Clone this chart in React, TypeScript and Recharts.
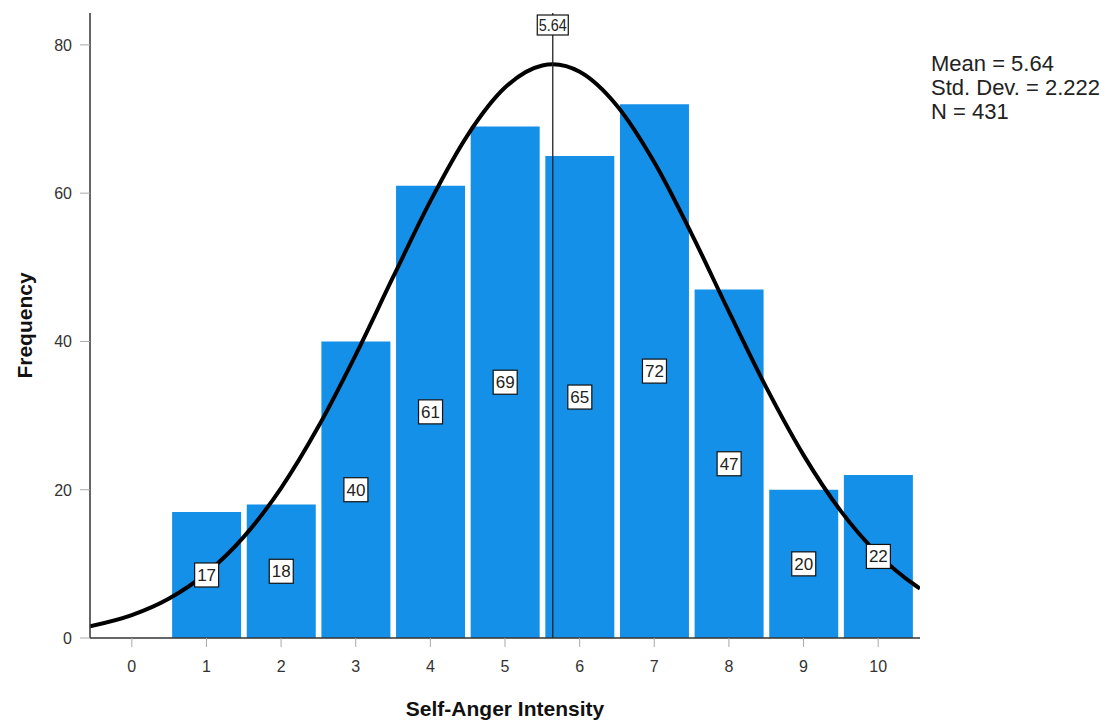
import {
  ComposedChart,
  Bar,
  Line,
  XAxis,
  YAxis,
  ReferenceLine,
  LabelList,
  Label,
} from "recharts";

const FONT = "'Liberation Sans', Arial, sans-serif";

// histogram bins (Self-Anger Intensity) and counts
const bins = [1, 2, 3, 4, 5, 6, 7, 8, 9, 10];
const frequencies = [17, 18, 40, 61, 69, 65, 72, 47, 20, 22];

// normal curve (frequency scale)
const curveX = [-0.56, 0, 0.5, 1, 1.5, 2, 2.5, 3, 3.5, 4, 4.5, 5, 5.5, 5.64, 6, 6.5, 7, 7.5, 8, 8.5, 9, 9.5, 10, 10.5, 10.56];
const curveY = [1.58, 3.09, 5.33, 8.75, 13.64, 20.23, 28.52, 38.2, 48.66, 58.93, 67.84, 74.24, 77.22, 77.38, 76.37, 71.79, 64.16, 54.51, 44.02, 33.8, 24.67, 17.11, 11.29, 7.08, 6.67];

const xTicks = [0, 1, 2, 3, 4, 5, 6, 7, 8, 9, 10];
const yTicks = [0, 20, 40, 60, 80];
const X_DOMAIN: [number, number] = [-0.56, 10.56];

const MEAN = 5.64;
const statsLines = ["Mean = 5.64", "Std. Dev. = 2.222", "N = 431"];

const barData = bins.map((x, i) => ({ x, freq: frequencies[i] }));
const curveData = curveX.map((x, i) => ({ x, curve: curveY[i] }));

function BoxLabel(props: any) {
  const { x, y, width, height, value } = props;
  if (value == null) return null;
  const cx = x + width / 2;
  const cy = y + height / 2;
  const w = String(value).length * 9.5 + 5;
  return (
    <g>
      <rect x={cx - w / 2} y={cy - 12} width={w} height={24} fill="#fff" stroke="#111" strokeWidth={1.2} />
      <text x={cx} y={cy + 6} textAnchor="middle" fontSize={17} fontFamily={FONT} fill="#222">
        {value}
      </text>
    </g>
  );
}

function MeanLabel(props: any) {
  const { viewBox } = props;
  const cx = viewBox.x;
  const top = viewBox.y;
  return (
    <g>
      <rect x={cx - 15.5} y={top + 2} width={31} height={20} fill="#fff" stroke="#111" strokeWidth={1.2} />
      <text x={cx} y={top + 18} textAnchor="middle" fontSize={16} fontFamily={FONT} fill="#222" textLength={28} lengthAdjust="spacingAndGlyphs">
        {MEAN.toFixed(2)}
      </text>
    </g>
  );
}

function XTick(props: any) {
  const { x, y, payload } = props;
  return (
    <text x={x} y={y + 14} textAnchor="middle" fontSize={16} fontFamily={FONT} fill="#333">
      {payload.value}
    </text>
  );
}

function YTick(props: any) {
  const { x, y, payload } = props;
  return (
    <text x={x} y={y + 6} textAnchor="end" fontSize={16} fontFamily={FONT} fill="#333">
      {payload.value}
    </text>
  );
}

function YTitle(props: any) {
  const { viewBox } = props;
  const cy = viewBox.y + viewBox.height / 2;
  return (
    <text x={32} y={cy} transform={`rotate(-90 32 ${cy})`} textAnchor="middle" fontSize={21} fontWeight="bold" fontFamily={FONT} fill="#111">
      Frequency
    </text>
  );
}

function XTitle(props: any) {
  const { viewBox } = props;
  const cx = viewBox.x + viewBox.width / 2;
  return (
    <text x={cx} y={716} textAnchor="middle" fontSize={21} fontWeight="bold" fontFamily={FONT} fill="#111">
      Self-Anger Intensity
    </text>
  );
}

export default function App() {
  return (
    <div style={{ position: "absolute", left: 0, top: 0, width: 1116, height: 721, background: "#fff", fontFamily: FONT }}>
      <ComposedChart width={1116} height={721} data={barData} margin={{ top: 13, right: 196, left: 0, bottom: 0 }}>
        <XAxis
          dataKey="x"
          type="number"
          domain={X_DOMAIN}
          ticks={xTicks}
          allowDataOverflow
          height={83}
          tickSize={9}
          tickMargin={11}
          tick={<XTick />}
          axisLine={{ stroke: "#333", strokeWidth: 1.5 }}
          tickLine={{ stroke: "#aaa" }}
        >
          <Label content={<XTitle />} />
        </XAxis>
        <XAxis xAxisId="curve" dataKey="x" type="number" domain={X_DOMAIN} allowDataOverflow hide />
        <YAxis
          type="number"
          domain={[0, 84.3]}
          ticks={yTicks}
          allowDataOverflow
          width={90}
          tickSize={10}
          tickMargin={8}
          tick={<YTick />}
          axisLine={{ stroke: "#333", strokeWidth: 1.5 }}
          tickLine={{ stroke: "#aaa" }}
        >
          <Label content={<YTitle />} />
        </YAxis>
        <Bar dataKey="freq" fill="#1490E8" barSize={69} isAnimationActive={false}>
          <LabelList dataKey="freq" content={<BoxLabel />} />
        </Bar>
        <Line
          xAxisId="curve"
          data={curveData}
          dataKey="curve"
          type="monotone"
          stroke="#000"
          strokeWidth={4}
          dot={false}
          activeDot={false}
          isAnimationActive={false}
        />
        <ReferenceLine x={MEAN} stroke="#222" strokeWidth={1.3} label={<MeanLabel />} />
      </ComposedChart>
      <div style={{ position: "absolute", left: 931, top: 52, fontSize: 22, lineHeight: "24px", color: "#222", fontFamily: FONT }}>
        {statsLines.map((s) => (
          <div key={s}>{s}</div>
        ))}
      </div>
    </div>
  );
}
